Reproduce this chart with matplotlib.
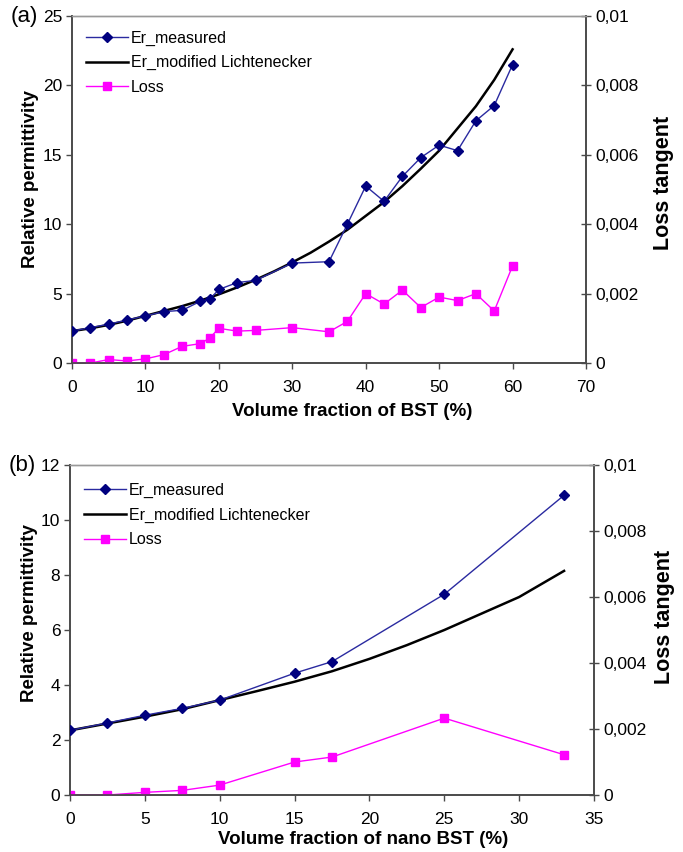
import matplotlib
matplotlib.use("Agg")
import matplotlib.pyplot as plt

plt.rcParams['font.family'] = ['Liberation Sans', 'DejaVu Sans']

# ---------------- Panel (a) data ----------------
a_x_meas = [0, 2.5, 5, 7.5, 10, 12.5, 15, 17.5, 18.75, 20, 22.5, 25, 30, 35, 37.5,
            40, 42.5, 45, 47.5, 50, 52.5, 55, 57.5, 60]
a_er_meas = [2.3, 2.55, 2.8, 3.1, 3.4, 3.7, 3.8, 4.45, 4.6, 5.3, 5.8, 5.95, 7.2, 7.3, 10.0,
             12.75, 11.65, 13.45, 14.8, 15.7, 15.3, 17.45, 18.55, 21.5]
a_loss = [0, 0, 0.0001, 0.00006, 0.00012, 0.00024, 0.00048, 0.00056, 0.00072, 0.001,
          0.00092, 0.00094, 0.00102, 0.0009, 0.0012, 0.002, 0.0017, 0.0021, 0.0016,
          0.0019, 0.0018, 0.002, 0.0015, 0.0028]
a_x_model = [0, 2.5, 5, 7.5, 10, 12.5, 15, 17.5, 20, 22.5, 25, 27.5, 30, 32.5, 35, 37.5,
             40, 42.5, 45, 47.5, 50, 52.5, 55, 57.5, 60]
a_er_model = [2.3, 2.5, 2.75, 3.05, 3.4, 3.75, 4.1, 4.5, 4.95, 5.45, 6.0, 6.6, 7.25, 7.95,
              8.75, 9.6, 10.6, 11.6, 12.75, 14.0, 15.3, 16.9, 18.5, 20.4, 22.6]

# ---------------- Panel (b) data ----------------
b_x_meas = [0, 2.5, 5, 7.5, 10, 15, 17.5, 25, 33]
b_er_meas = [2.35, 2.62, 2.9, 3.15, 3.45, 4.43, 4.85, 7.3, 10.9]
b_loss = [0, 0, 0.00008, 0.00014, 0.0003, 0.001, 0.00115, 0.00233, 0.00122]
b_x_model = [0, 2.5, 5, 7.5, 10, 12.5, 15, 17.5, 20, 22.5, 25, 27.5, 30, 33]
b_er_model = [2.35, 2.6, 2.85, 3.12, 3.45, 3.78, 4.12, 4.5, 4.95, 5.45, 6.0, 6.6, 7.2, 8.15]

# ---------------- Axis ticks / labels ----------------
a_xticks = [0, 10, 20, 30, 40, 50, 60, 70]
a_yticks = [0, 5, 10, 15, 20, 25]
b_xticks = [0, 5, 10, 15, 20, 25, 30, 35]
b_yticks = [0, 2, 4, 6, 8, 10, 12]
loss_ticks = [0, 0.002, 0.004, 0.006, 0.008, 0.01]
loss_tick_labels = ['0', '0,002', '0,004', '0,006', '0,008', '0,01']
series_names = ['Er_measured', 'Er_modified Lichtenecker', 'Loss']

NAVY = '#00007f'
BLUE_LINE = '#2a2aa0'
MAG = '#ff00ff'
SPINE = '#4a4a4a'

fig = plt.figure(figsize=(6.83, 8.52), dpi=100)


def make_panel(rect, xm, em, xmod, emod, loss, xticks, yticks, xlabel, tag, leg_y,
               xlab_pos, ylab_pos, y2lab_pos):
    ax = fig.add_axes(rect)
    ax2 = ax.twinx()
    l1, = ax.plot(xm, em, color=BLUE_LINE, lw=1.0, marker='D', ms=5,
                  mfc=NAVY, mec=NAVY, zorder=3, label=series_names[0])
    l2, = ax.plot(xmod, emod, color='black', lw=1.8, zorder=2, label=series_names[1])
    l3, = ax2.plot(xm, loss, color=MAG, lw=1.0, marker='s', ms=5.5,
                   mfc=MAG, mec=MAG, zorder=3, label=series_names[2])
    ax.set_xlim(xticks[0], xticks[-1])
    ax.set_ylim(yticks[0], yticks[-1])
    ax2.set_ylim(0, 0.01)
    ax.set_xticks(xticks)
    ax.set_yticks(yticks)
    ax2.set_yticks(loss_ticks)
    ax2.set_yticklabels(loss_tick_labels)
    for a in (ax, ax2):
        a.spines['top'].set_color('#999999')
        a.spines['top'].set_linewidth(1.0)
        for s in ('left', 'right', 'bottom'):
            a.spines[s].set_color(SPINE)
            a.spines[s].set_linewidth(1.2)
    ax.tick_params(axis='both', labelsize=12.5, length=4, width=1.0, color=SPINE,
                   direction='out', pad=3)
    ax.tick_params(axis='x', pad=8)
    ax2.tick_params(axis='y', labelsize=12.5, length=7, width=1.0, color=SPINE,
                    direction='inout', pad=3)
    ax.set_xlabel(xlabel, fontsize=13.5, fontweight='bold')
    ax.xaxis.set_label_coords(*xlab_pos)
    ax.set_ylabel('Relative permittivity', fontsize=13.5, fontweight='bold')
    ax.yaxis.set_label_coords(*ylab_pos)
    ax2.set_ylabel('Loss tangent', fontsize=15.5, fontweight='bold', rotation=90)
    ax2.yaxis.set_label_coords(*y2lab_pos)
    ax.legend([l1, l2, l3], series_names, loc='upper left',
              bbox_to_anchor=(0.0, leg_y), frameon=False, fontsize=11.5,
              handlelength=2.6, handletextpad=0.2, labelspacing=0.6,
              borderaxespad=0.5)
    ax.text(-0.066, 1.0, tag, transform=ax.transAxes, fontsize=16,
            ha='right', va='center')
    ax.set_zorder(ax2.get_zorder() + 1)
    ax.patch.set_visible(False)
    return ax, ax2


make_panel([0.1054, 0.5739, 0.7526, 0.4073], a_x_meas, a_er_meas, a_x_model, a_er_model,
           a_loss, a_xticks, a_yticks, 'Volume fraction of BST (%)', '(a)', 1.0,
           (0.545, -0.115), (-0.065, 0.53), (1.13, 0.52))
make_panel([0.1025, 0.0669, 0.7672, 0.3873], b_x_meas, b_er_meas, b_x_model, b_er_model,
           b_loss, b_xticks, b_yticks, 'Volume fraction of nano BST (%)', '(b)', 0.99,
           (0.56, -0.11), (-0.062, 0.55), (1.115, 0.54))

fig.savefig('out.png', dpi=100)
